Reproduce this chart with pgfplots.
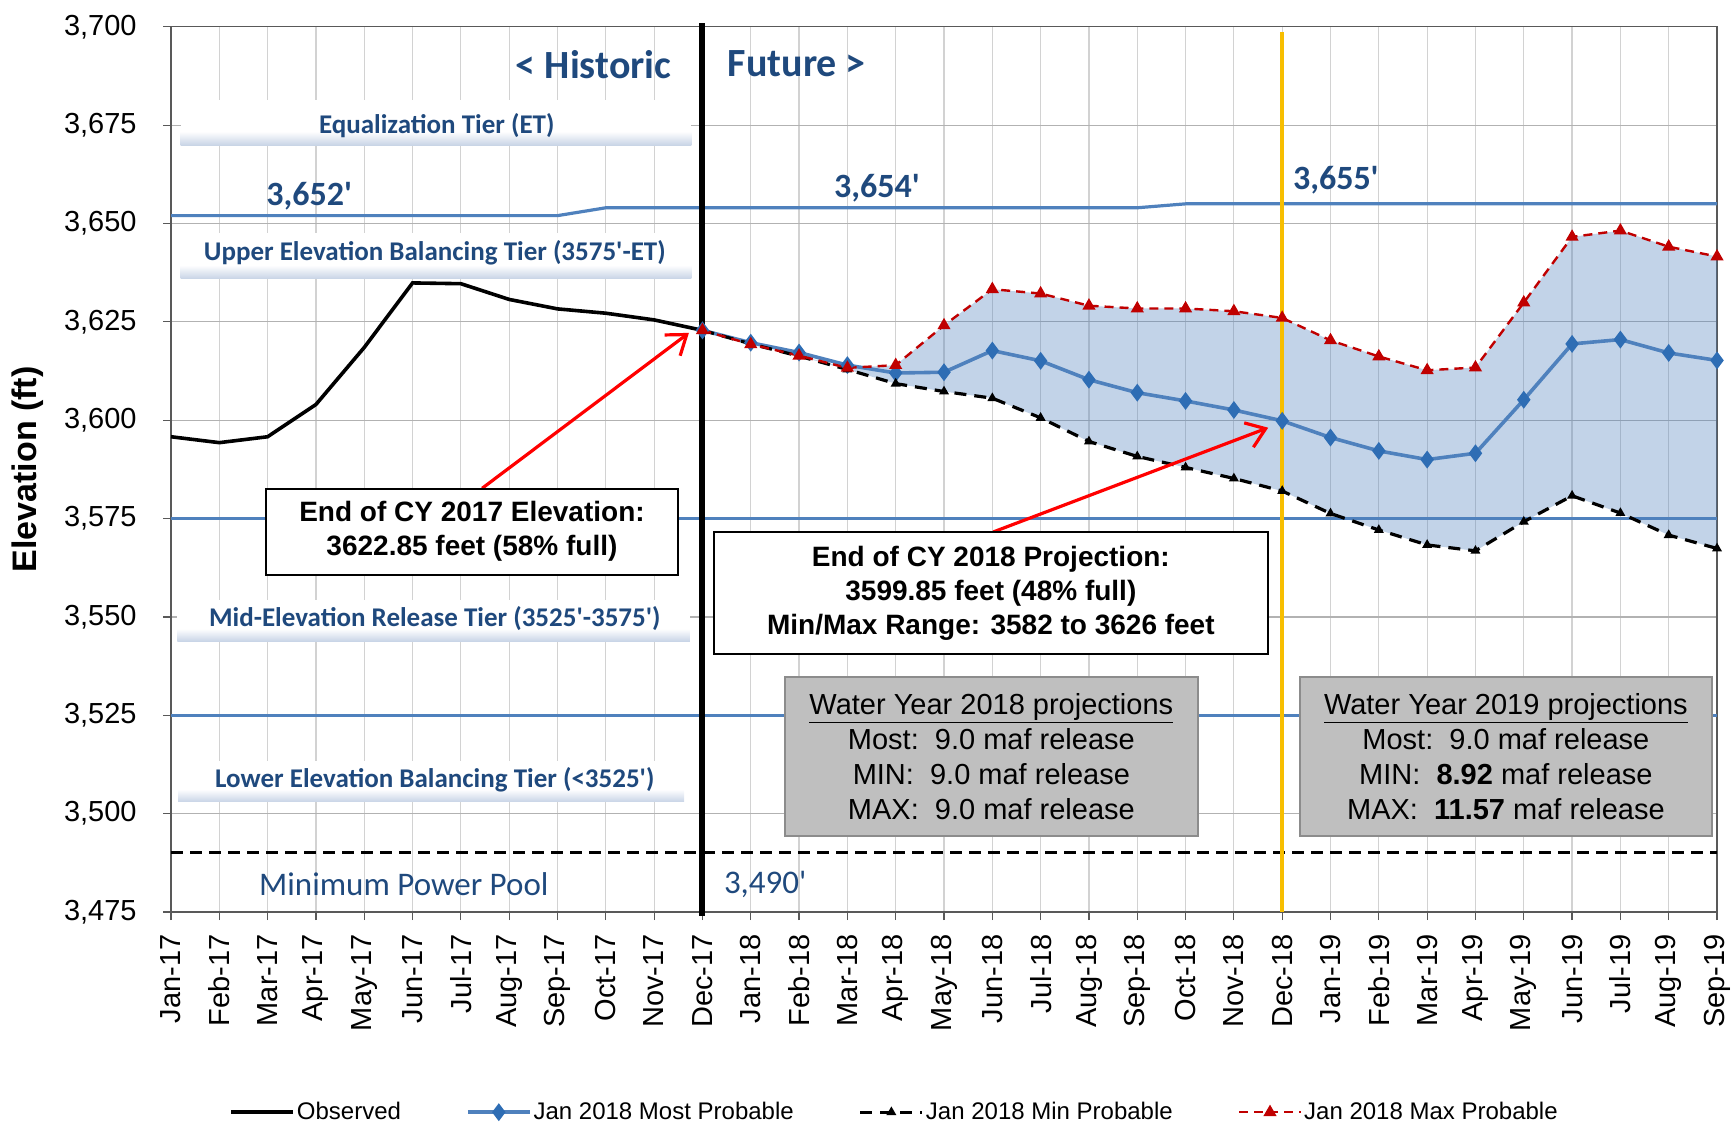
\documentclass[border=0pt]{standalone}
\usepackage{pgfplots}
\pgfplotsset{compat=1.18}
\usepackage{pgfplotstable}
\usepgfplotslibrary{fillbetween}
\usetikzlibrary{arrows.meta,calc}
\usepackage{fontspec}
\setmainfont{Liberation Sans}
\newfontfamily\calibri{Carlito}

\definecolor{xlblue}{HTML}{4F81BD}
\definecolor{xldark}{HTML}{1F497D}
\definecolor{xlred}{HTML}{C00000}
\definecolor{xlyellow}{RGB}{247,190,0}
\definecolor{xlmark}{HTML}{2E6DB4}
\definecolor{band}{RGB}{200,212,230}
\definecolor{boxgray}{RGB}{191,191,191}
\definecolor{boxedge}{RGB}{140,140,140}

\pgfplotstableread{
x y
0 3595.8
1 3594.3
2 3595.8
3 3604.0
4 3618.5
5 3634.9
6 3634.7
7 3630.7
8 3628.3
9 3627.2
10 3625.5
11 3622.85
}\obstab

\pgfplotstableread{
x y
11 3622.85
12 3619.7
13 3617.2
14 3614.0
15 3612.0
16 3612.2
17 3617.7
18 3615.1
19 3610.3
20 3607.0
21 3604.9
22 3602.6
23 3599.85
24 3595.6
25 3592.2
26 3590.0
27 3591.6
28 3605.2
29 3619.4
30 3620.5
31 3617.1
32 3615.2
}\mosttab

\pgfplotstableread{
x y
11 3622.85
12 3619.4
13 3616.3
14 3612.9
15 3609.3
16 3607.3
17 3605.6
18 3600.6
19 3594.6
20 3590.8
21 3588.0
22 3585.2
23 3582.0
24 3576.3
25 3572.1
26 3568.3
27 3566.8
28 3574.2
29 3580.8
30 3576.4
31 3570.8
32 3567.4
}\mintab

\pgfplotstableread{
x y
11 3622.85
12 3619.3
13 3616.4
14 3613.3
15 3614.0
16 3624.1
17 3633.3
18 3632.2
19 3629.1
20 3628.4
21 3628.4
22 3627.7
23 3626.0
24 3620.3
25 3616.2
26 3612.7
27 3613.4
28 3629.9
29 3646.6
30 3648.2
31 3644.1
32 3641.6
}\maxtab

\pgfplotstableread{
x y
0 3652
8 3652
9 3654
20 3654
21 3655
32 3655
}\ettab

\begin{document}
\begin{tikzpicture}
\begin{axis}[
  name=ax,
  at={(0,0)}, anchor=south west,
  scale only axis, width=773pt, height=442.6pt,
  xmin=0, xmax=32, ymin=3475, ymax=3700,
  clip=false,
  xtick={0,...,32},
  xticklabels={Jan-17,Feb-17,Mar-17,Apr-17,May-17,Jun-17,Jul-17,Aug-17,Sep-17,Oct-17,Nov-17,Dec-17,Jan-18,Feb-18,Mar-18,Apr-18,May-18,Jun-18,Jul-18,Aug-18,Sep-18,Oct-18,Nov-18,Dec-18,Jan-19,Feb-19,Mar-19,Apr-19,May-19,Jun-19,Jul-19,Aug-19,Sep-19},
  ytick={3475,3500,...,3700},
  /pgf/number format/assume math mode=true,
  /pgf/number format/fixed,
  /pgf/number format/1000 sep={,},
  ticklabel style={font=\fontsize{14.5}{17}\selectfont},
  xticklabel style={rotate=90, anchor=east, inner xsep=7pt},
  yticklabel style={inner xsep=13pt},
  grid=major,
  x grid style={gray!35, line width=0.6pt},
  y grid style={gray!60, line width=0.6pt},
  axis line style={gray!70!black, line width=0.7pt},
  tick style={gray!70!black, line width=0.6pt},
  tick align=outside, tick pos=left, major tick length=4pt,
  ylabel={Elevation (ft)},
  every axis y label/.style={at={(axis description cs:-0.0925,0.5)}, rotate=90, anchor=center, font=\bfseries\fontsize{17}{20}\selectfont},
  legend columns=4,
  legend style={at={(0.468,-0.2262)}, anchor=center, draw=none, fill=none,
    font=\fontsize{12}{13.5}\selectfont, inner sep=0pt,
    nodes={inner sep=1pt},
    /tikz/every even column/.append style={column sep=31.5pt}},
  legend cell align=left,
  legend image code/.code={\draw[mark repeat=2,mark phase=2,#1] plot coordinates {(0pt,0pt) (15.5pt,0pt) (31pt,0pt)};},
]

% tier label bands
\fill[white] (0.2,3669.9) rectangle (10.77,3681.3);
\shade[top color=white, bottom color=band] (0.2,3669.9) rectangle (10.77,3673.4);
\fill[white] (0.2,3636.0) rectangle (10.77,3647.5);
\shade[top color=white, bottom color=band] (0.2,3636.0) rectangle (10.77,3639.4);
\fill[white] (0.13,3543.8) rectangle (10.74,3554.4);
\shade[top color=white, bottom color=band] (0.13,3543.8) rectangle (10.74,3547.0);
\fill[white] (0.15,3503.0) rectangle (10.62,3513.4);
\shade[top color=white, bottom color=band] (0.15,3503.0) rectangle (10.62,3506.2);

% range fill
\addplot[draw=none, name path=maxp, forget plot] table[x=x,y=y] {\maxtab};
\addplot[draw=none, name path=minp, forget plot] table[x=x,y=y] {\mintab};
\addplot[fill=xlblue, fill opacity=0.35, draw=none, forget plot] fill between[of=maxp and minp];

% reference lines
\addplot[xlblue, line width=1.6pt, forget plot] coordinates {(0,3575) (32,3575)};
\addplot[xlblue, line width=1.6pt, forget plot] coordinates {(0,3525) (32,3525)};
\addplot[xlblue, line width=1.6pt, forget plot] table[x=x,y=y] {\ettab};
\addplot[black, line width=1.5pt, dash pattern=on 6pt off 3.5pt, forget plot] coordinates {(0,3490) (32,3490)};

% series
\addplot[black, line width=1.8pt, no markers] table[x=x,y=y] {\obstab};
\addlegendentry{Observed}
\addplot[xlblue, line width=1.8pt, mark=diamond*, mark size=3pt, mark options={fill=xlmark, draw=xlmark, solid}] table[x=x,y=y] {\mosttab};
\addlegendentry{Jan 2018 Most Probable}
\addplot[black, line width=1.6pt, dash pattern=on 6pt off 4pt, mark=triangle*, mark size=1.3pt, mark options={fill=black, solid}] table[x=x,y=y] {\mintab};
\addlegendentry{Jan 2018 Min Probable}
\addplot[xlred, line width=1.2pt, dash pattern=on 4.5pt off 3pt, mark=triangle*, mark size=2.6pt, mark options={fill=xlred, draw=xlred, solid}] table[x=x,y=y] {\maxtab};
\addlegendentry{Jan 2018 Max Probable}

% vertical markers
\addplot[black, line width=3pt, forget plot] coordinates {(11,3474) (11,3701)};
\addplot[xlyellow, line width=1.8pt, forget plot] coordinates {(23,3475) (23,3698.6)};

% texts
\node[anchor=east, text=xldark, font=\calibri\bfseries\fontsize{20}{24}\selectfont] at (10.5,3690.5) {< Historic};
\node[anchor=west, text=xldark, font=\calibri\bfseries\fontsize{20}{24}\selectfont] at (11.38,3690.5) {Future >};
\node[text=xldark, font=\calibri\bfseries\fontsize{13.5}{16}\selectfont] at (5.5,3675) {Equalization Tier (ET)};
\node[text=xldark, font=\calibri\bfseries\fontsize{13.5}{16}\selectfont] at (5.46,3642.5) {Upper Elevation Balancing Tier (3575\textquotesingle-ET)};
\node[text=xldark, font=\calibri\bfseries\fontsize{13.5}{16}\selectfont] at (5.46,3549.5) {Mid-Elevation Release Tier (3525\textquotesingle-3575\textquotesingle)};
\node[text=xldark, font=\calibri\bfseries\fontsize{13.5}{16}\selectfont] at (5.46,3508.5) {Lower Elevation Balancing Tier (<3525\textquotesingle)};
\node[text=xldark, font=\calibri\bfseries\fontsize{17}{20}\selectfont] at (2.86,3656.9) {3,652\textquotesingle};
\node[text=xldark, font=\calibri\bfseries\fontsize{17}{20}\selectfont] at (14.61,3659) {3,654\textquotesingle};
\node[text=xldark, font=\calibri\bfseries\fontsize{17}{20}\selectfont] at (24.11,3661) {3,655\textquotesingle};
\node[text=xldark, font=\calibri\fontsize{16.5}{19}\selectfont] at (4.82,3482.1) {Minimum Power Pool};
\node[anchor=west, text=xldark, font=\calibri\fontsize{16.5}{19}\selectfont] at (11.3,3482.1) {3,490\textquotesingle};

% arrows
\draw[red, line width=1.6pt, -{Straight Barb[length=9pt,width=13pt]}] (6.44,3582.7) -- (10.72,3622.2);
\draw[red, line width=1.6pt, -{Straight Barb[length=9pt,width=13pt]}] (17.02,3571.6) -- (22.71,3598.1);

% boxes
\node[draw=black, line width=1pt, fill=white, minimum width=206pt, minimum height=43pt, align=center, inner sep=0pt, font=\bfseries\fontsize{14}{17}\selectfont] at (6.23,3571.7) {End of CY 2017 Elevation:\\3622.85 feet (58\% full)};
\node[draw=black, line width=1pt, fill=white, minimum width=277pt, minimum height=61pt, align=center, inner sep=0pt, font=\bfseries\fontsize{14}{17}\selectfont] at (16.97,3556.1) {End of CY 2018 Projection:\\3599.85 feet (48\% full)\\Min/Max Range: 3582 to 3626 feet};
\node[draw=boxedge, line width=1.2pt, fill=boxgray, minimum width=206.5pt, minimum height=79.5pt, align=center, inner sep=0pt, font=\fontsize{14.5}{17.5}\selectfont] at (16.98,3514.6) {\underline{Water Year 2018 projections}\\Most:\ \ 9.0 maf release\\MIN:\ \ 9.0 maf release\\MAX:\ \ 9.0 maf release};
\node[draw=boxedge, line width=1.2pt, fill=boxgray, minimum width=206pt, minimum height=79.5pt, align=center, inner sep=0pt, font=\fontsize{14.5}{17.5}\selectfont] at (27.63,3514.6) {\underline{Water Year 2019 projections}\\Most:\ \ 9.0 maf release\\MIN:\ \ \textbf{8.92} maf release\\MAX:\ \ \textbf{11.57} maf release};
\end{axis}
\pgfresetboundingbox
\path[use as bounding box] ([shift={(-85.5pt,-106.5pt)}]ax.south west) rectangle ([shift={(7pt,13.4pt)}]ax.north east);
\end{tikzpicture}
\end{document}
